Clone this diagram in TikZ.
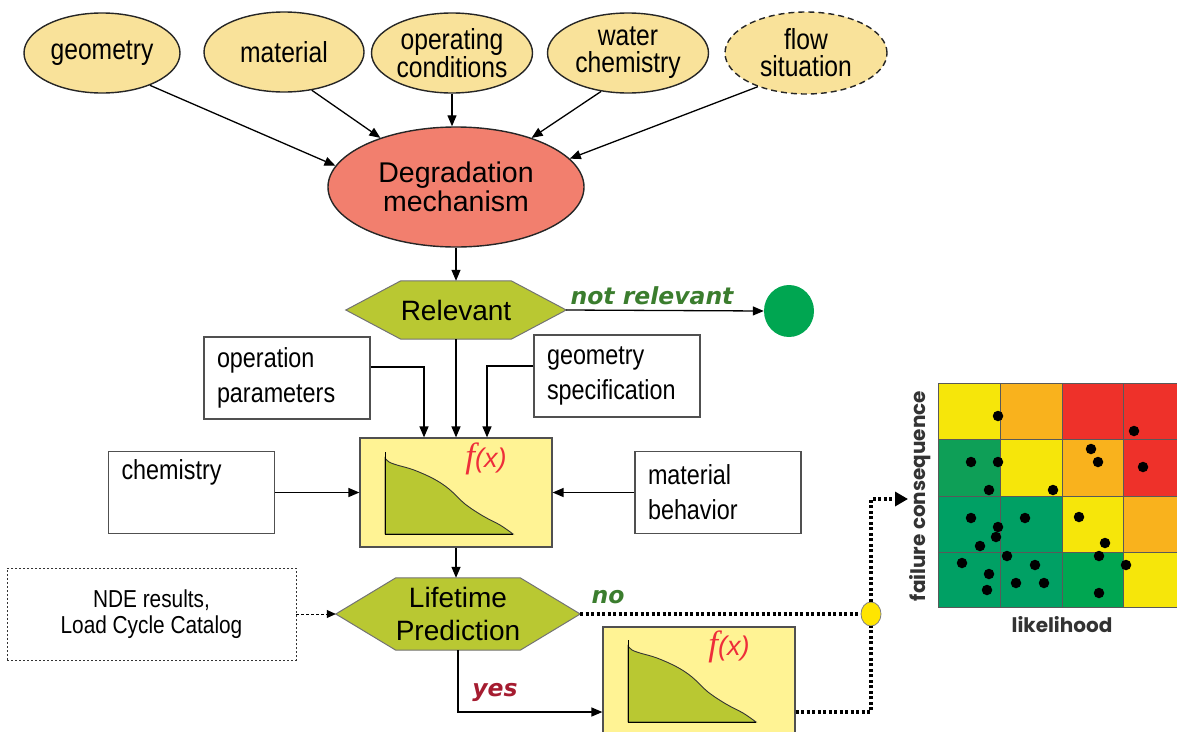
\documentclass[tikz,border=0pt]{standalone}
\usepackage{fontspec}
\setmainfont{Liberation Sans}
\newfontfamily\nar{Liberation Sans}[FakeStretch=0.85]
\newfontfamily\dvs{DejaVu Sans}
\newfontfamily\lserif{Liberation Serif}
\newfontfamily\pop{Poppins}
\usetikzlibrary{arrows.meta,shapes.geometric,backgrounds}
\definecolor{ellfill}{HTML}{F9E29A}
\definecolor{degfill}{HTML}{F27F6E}
\definecolor{hexfill}{HTML}{B9C832}
\definecolor{yboxfill}{HTML}{FFF394}
\definecolor{boxgray}{HTML}{505050}
\definecolor{lblgreen}{HTML}{3B7D2E}
\definecolor{lblred}{HTML}{A51C30}
\definecolor{fxred}{HTML}{EE2E3A}
\definecolor{gcol}{HTML}{00A651}
\definecolor{ycirc}{HTML}{FFE500}
\definecolor{mY}{HTML}{F6E60A}
\definecolor{mO}{HTML}{F9B21D}
\definecolor{mR}{HTML}{EE312A}
\definecolor{mGa}{HTML}{0E9F57}
\definecolor{mGb}{HTML}{00A064}
\definecolor{mGc}{HTML}{00A651}
\definecolor{labgray}{HTML}{333333}
\newcommand\fxgraph[3]{%
  \begin{scope}[shift={#1}]
    \draw[fill=hexfill, draw=black!80, line width=0.9pt] (0,0) -- plot[smooth, tension=0.6] coordinates {(0,-76) (4,-72) (12,-69) (29,-64) (49,-55) (64,-45) (80,-30) (98,-18) (115,-9) (128,0)} -- cycle;
    \draw[line width=1pt] (0,-82) -- (0,0) -- (128,0);
    \node[fxlabel] (#2) at (101,-75) {#3};
  \end{scope}}
\begin{document}
\begin{tikzpicture}[x=1pt,y=-1pt,
  ell/.style={ellipse, draw=black!85, line width=1.4pt, fill=ellfill, inner sep=0pt, align=center, font=\nar\fontsize{29}{27}\selectfont},
  txtbox/.style={rectangle, draw=boxgray, line width=1.2pt, minimum width=166pt, minimum height=82pt, inner xsep=13pt, text width=140pt, align=left, font=\nar\fontsize{27.5}{35}\selectfont},
  ybox/.style={rectangle, draw=boxgray, line width=1.2pt, fill=yboxfill, inner sep=0pt},
  hexnode/.style={inner sep=0pt, align=center, font=\fontsize{28}{33}\selectfont},
  hexa/.style={fill=hexfill, draw=black!55, line width=1pt},
  arr/.style={-{Triangle[length=11pt,width=9pt]}, line width=1.3pt, black},
  dotline/.style={line width=3.5pt, dash pattern=on 3pt off 2.5pt},
  lbl/.style={font=\dvs\bfseries\itshape\fontsize{23.5}{24}\selectfont, inner sep=0pt},
  fxlabel/.style={inner sep=0pt, text=fxred},
  dot/.style={circle, fill=black, inner sep=0pt, minimum size=10.5pt}
]
\path[use as bounding box] (0,0) rectangle (1177,731);

% top ellipses
\node[ell, minimum width=156pt, minimum height=80pt] (geo) at (102,53) {geometry};
\node[ell, minimum width=160pt, minimum height=80pt] (mat) at (284,52) {material};
\node[ell, minimum width=161pt, minimum height=80pt] (ope) at (452,53) {operating\\conditions};
\node[ell, minimum width=161pt, minimum height=80pt] (wat) at (628,53) {water\\chemistry};
\node[ell, dash pattern=on 6pt off 4pt, minimum width=162pt, minimum height=82pt] (flow) at (806,53) {flow\\situation};

\node[ell, fill=degfill, minimum width=256pt, minimum height=120pt, font=\fontsize{28.5}{29}\selectfont] (deg) at (456,187) {Degradation\\mechanism};

\draw[arr] (geo.-34) -- (deg.170);
\draw[arr] (mat.-54) -- (deg.147);
\draw[arr] (ope.south) -- (ope.south |- deg.north);
\draw[arr] (wat.235) -- (deg.33);
\draw[arr] (flow.215) -- (deg.14);

% Relevant
\node[hexnode, minimum width=220pt, minimum height=58pt] (rel) at (456,310) {Relevant};
\begin{scope}[on background layer]
\draw[hexa] (rel.west) -- ([xshift=55pt]rel.north west) -- ([xshift=-55pt]rel.north east) -- (rel.east) -- ([xshift=-55pt]rel.south east) -- ([xshift=55pt]rel.south west) -- cycle;
\end{scope}
\draw[arr] (deg.south) -- (rel.north);

\node[ellipse, fill=gcol, minimum width=50pt, minimum height=52pt, inner sep=0pt] (gc) at (789,311) {};
\draw[arr] (rel.east) -- (gc.west);
\node[lbl, text=lblgreen] (notrel) at (652,296) {not relevant};

% input boxes
\node[txtbox] (op) at (287,378) {operation\\parameters};
\node[txtbox] (gs) at (617,376) {geometry\\specification};
\node[txtbox] (chem) at (191.5,492.5) {chemistry\\\strut};
\node[txtbox] (mb) at (718,492.5) {material\\behavior};

% f(x) box 1
\node[ybox, minimum width=192pt, minimum height=109pt] (fbox) at (456,492.5) {};
\fxgraph{(385,534)}{fxa}{{\lserif\itshape\fontsize{35}{35}\selectfont f}{\itshape\fontsize{27}{27}\selectfont(x)}}

\draw[arr] (rel.south) -- (rel.south |- fbox.north);
\draw[arr] ([yshift=11pt]op.east) -| ([xshift=-32pt]fbox.north);
\draw[arr] ([yshift=10pt]gs.west) -| ([xshift=31pt]fbox.north);
\draw[arr] (chem.east) -- (fbox.west);
\draw[arr] (mb.west) -- (fbox.east);

% Lifetime prediction
\node[hexnode, minimum width=244pt, minimum height=72pt] (life) at (458,614) {Lifetime\\Prediction};
\begin{scope}[on background layer]
\draw[hexa] (life.west) -- ([xshift=60pt]life.north west) -- ([xshift=-60pt]life.north east) -- (life.east) -- ([xshift=-60pt]life.south east) -- ([xshift=60pt]life.south west) -- cycle;
\end{scope}
\draw[arr] (fbox.south) -- (fbox.south |- life.north);

\node[draw=black!80, line width=0.8pt, dash pattern=on 2pt off 2pt, minimum width=289pt, minimum height=92pt, align=center, font=\nar\fontsize{24.5}{26}\selectfont] (nde) at (151.5,614) {NDE results,\\Load Cycle Catalog};
\draw[line width=0.8pt, dash pattern=on 3pt off 2pt, -{Triangle[length=9pt,width=8pt]}] (nde.east) -- (life.west);

% f(x) box 2
\node[ybox, minimum width=192pt, minimum height=170pt] (fbox2) at (699,712) {};
\fxgraph{(628,722)}{fxb}{{\lserif\itshape\fontsize{35}{35}\selectfont f}{\itshape\fontsize{27}{27}\selectfont(x)}}

\draw[arr] (life.south) |- (fbox2.west);
\node[lbl, text=lblred] (yes) at (495,692) {yes};

% dotted connectors
\node[ellipse, fill=ycirc, draw=black!50, line width=0.8pt, minimum width=20pt, minimum height=24pt, inner sep=0pt] (yc) at (871,614) {};
\node[lbl, text=lblgreen] (no) at (608,597) {no};
\draw[dotline] (life.east) -- (yc.west);
\draw[dotline] (fbox2.east) -| (yc.south);
\coordinate (mxin) at (908,499);
\draw[dotline, -{Triangle[length=13pt,width=14pt]}] (yc.north) |- (mxin);

% risk matrix
\fill[mY]  (938,383) rectangle (1000,439);
\fill[mO]  (1000,383) rectangle (1062,439);
\fill[mR]  (1062,383) rectangle (1185,439);
\fill[mGa] (938,439) rectangle (1000,496);
\fill[mY]  (1000,439) rectangle (1062,496);
\fill[mO]  (1062,439) rectangle (1123,496);
\fill[mR]  (1123,439) rectangle (1185,496);
\fill[mGb] (938,496) rectangle (1062,552);
\fill[mY]  (1062,496) rectangle (1123,552);
\fill[mO]  (1123,496) rectangle (1185,552);
\fill[mGb] (938,552) rectangle (1062,607);
\fill[mGc] (1062,552) rectangle (1123,607);
\fill[mY]  (1123,552) rectangle (1185,607);
\draw[black!65, line width=0.9pt] (938,383) rectangle (1185,607);
\foreach \gx in {1000,1062,1123} \draw[black!65, line width=0.9pt] (\gx,383) -- (\gx,607);
\foreach \gy in {439,496,552} \draw[black!65, line width=0.9pt] (938,\gy) -- (1185,\gy);

\foreach \dx/\dy [count=\i] in {998/416,1134/431,971/462,998/462,1091/449,1098/462,1143/467,989/490,1053/490,971/518,1025/518,1079/517,998/527,996/537,980/546,1105/543,1007/556,1099/556,962/563,1035/565,1126/565,989/574,1016/583,1044/583,987/590,1099/593}
  \node[dot] (d\i) at (\dx,\dy) {};

\node[rotate=90, inner sep=0pt, text=labgray, font=\pop\bfseries\fontsize{20}{20}\selectfont] (fc) at (920,496) {failure consequence};
\node[inner sep=0pt, text=labgray, font=\pop\bfseries\fontsize{20}{20}\selectfont] (lk) at (1062,625) {likelihood};
\end{tikzpicture}
\end{document}
